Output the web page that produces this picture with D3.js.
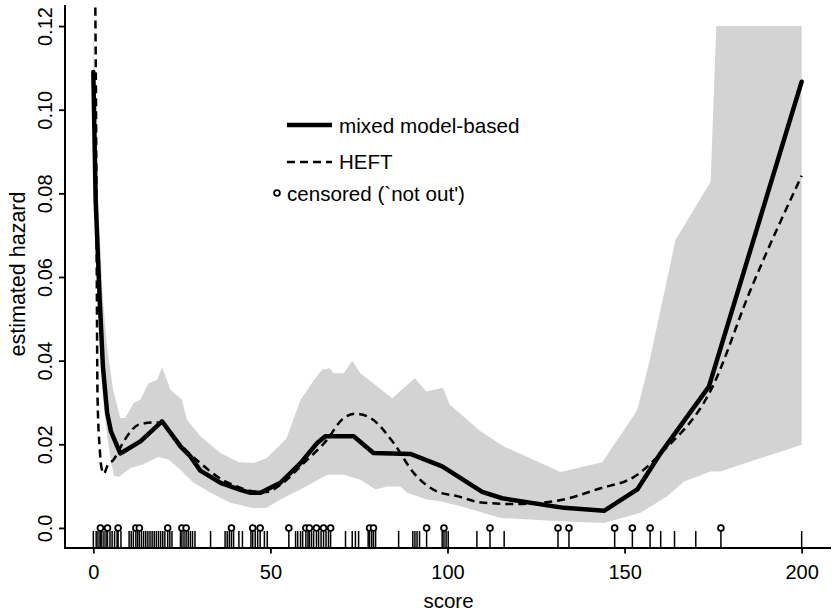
<!DOCTYPE html>
<html><head><meta charset="utf-8">
<script src="https://cdn.jsdelivr.net/npm/d3@7"></script>
<style>
body{margin:0;background:#fff}
text{font-family:"Liberation Sans",Arial,Helvetica,sans-serif;fill:#000}
</style>
</head><body>
<svg id="c" width="832" height="614"></svg>
<script>
// ---- data ----
const mixedScore  = [0,0.65,1.8,2.7,3.9,5,7.6,13.3,19.4,24.6,27.4,30.2,35.9,41.5,44.4,47.2,52.8,58.5,63.2,65.5,73.5,79.1,89.5,98.5,109.8,115.4,132.9,144.2,153.6,160.2,173.8,200];
const mixedHazard = [0.109,0.0785,0.0545,0.0386,0.0275,0.023,0.0178,0.0207,0.0255,0.0195,0.0171,0.0137,0.0108,0.0091,0.0084,0.0084,0.0108,0.0155,0.0203,0.0219,0.0219,0.0179,0.0177,0.0147,0.0086,0.0071,0.0048,0.0041,0.0092,0.0179,0.0338,0.1067];

const heftScore  = [0.45,0.56,0.7,1.2,1.8,2.3,3.0,4.0,5.7,8.6,12.8,17,19.4,22.5,26.5,30.2,35.9,40.6,45.3,49,52.8,59.4,66,70.2,74,78.2,84.8,90.5,97.1,102.7,109.5,119,131,142.5,153.6,160.2,174.5,185.6,200];
const heftHazard = [0.14,0.125,0.109,0.0307,0.019,0.0144,0.013,0.0149,0.0163,0.0207,0.0247,0.0252,0.0251,0.022,0.0183,0.0155,0.0118,0.0099,0.0087,0.0086,0.0103,0.0155,0.0211,0.0259,0.0273,0.0263,0.0203,0.0131,0.0087,0.0076,0.0061,0.0057,0.0065,0.0093,0.0127,0.0178,0.0332,0.057,0.0842];

const upperScore  = [0,0.65,1.8,2.7,3.9,5.6,7.6,9,11.4,13.3,15.6,18,19.4,21.8,25,26.4,30.2,35.9,41,45.3,49,54.5,57.5,58.5,62.3,64.6,66.7,67.9,70.7,73.1,75.4,79.9,84.4,88.6,90.8,94,98.7,100.6,109.3,115.9,131.9,143.7,152.6,153.6,156.9,164.4,174.3,175.9,200];
const upperHazard = [0.12,0.095,0.07,0.055,0.043,0.033,0.0263,0.0263,0.0299,0.0307,0.0346,0.0354,0.0384,0.033,0.0307,0.0259,0.0219,0.0179,0.0157,0.0155,0.0167,0.0213,0.0283,0.0306,0.0354,0.0378,0.0382,0.037,0.037,0.040,0.037,0.034,0.031,0.0342,0.0358,0.0326,0.0335,0.0295,0.0231,0.0195,0.0134,0.0157,0.0269,0.0283,0.0394,0.0689,0.0828,0.12,0.12];

const lowerScore  = [0,0.65,1.8,2.7,3.9,5,5.8,7.2,10.5,13.8,18.4,21.3,24.6,28.3,34,38.7,45.3,49,52.8,59.4,66,70.7,75.4,79.7,83,86.7,88.6,94.2,98,103.7,115,131.9,144.2,154.5,162,166.8,174.3,177,200];
const lowerHazard = [0.097,0.068,0.046,0.031,0.022,0.016,0.0125,0.0122,0.0143,0.0151,0.017,0.0163,0.0139,0.0108,0.008,0.006,0.0047,0.0048,0.0068,0.0096,0.0127,0.0127,0.0115,0.0092,0.0099,0.0099,0.0084,0.0068,0.0064,0.0052,0.0024,0.0016,0.0012,0.0036,0.0076,0.0111,0.0135,0.0135,0.0199];

// all observed scores (rug) and the censored ones ('not out')
const rugScores = [0,0.8,1.3,1.9,2,2.4,3,3.6,4,4.7,5.3,6,6.7,7,7.8,
  10.1,10.7,11.3,12,12.5,13,13.6,14.2,14.8,15.4,16,16.6,17.2,17.8,18.4,19,19.6,20.2,21,21.6,22.2,
  24.6,25,25.6,26.2,26.8,27.4,28,28.7,33.1,37.2,37.8,38.4,39,39.6,41.1,42.1,44.5,45,45.7,46.4,47.1,48.3,49.1,
  55.2,57.1,57.7,58.5,59.1,60,60.6,61,61.6,62.2,63,63.6,64.3,65,65.7,66.4,67,
  71.2,73.1,74,74.9,77.6,78,78.6,79.1,79.7,86.2,90.2,90.8,91.4,92.1,94.1,98.5,99,99.6,100.2,
  108.3,112,116,131.2,134.3,147.2,152.2,157.2,160.2,164.1,170.1,177.2,200];
const censoredScores = [2,4,7,12,13,21,25,26.2,39,45,47.1,55.2,60,61,63,65,67,78,79.1,94.1,99,112,131.2,134.3,147.2,152.2,157.2,177.2];

const xTicks = [0,50,100,150,200];
const yTicks = [0,0.02,0.04,0.06,0.08,0.10,0.12];
const yTickLabels = ["0.0","0.02","0.04","0.06","0.08","0.10","0.12"];
const legendLabels = ["mixed model-based","HEFT","censored (`not out')"];
const xLabel = "score", yLabel = "estimated hazard";

// ---- drawing ----
const svg = d3.select("#c");
const L=65, R=830, T=6, B=548;
const x = d3.scaleLinear().domain([-8,208]).range([L,R]);
const y = d3.scaleLinear().domain([-0.0048,0.1248]).range([B,T]);

svg.append("defs").append("clipPath").attr("id","clip")
  .append("rect").attr("x",L).attr("y",T).attr("width",R-L).attr("height",B-T);
const plot = svg.append("g").attr("clip-path","url(#clip)");

// confidence band
const up = upperScore.map((s,i)=>[s,upperHazard[i]]);
const lo = lowerScore.map((s,i)=>[s,lowerHazard[i]]).reverse();
const poly = d3.line().x(d=>x(d[0])).y(d=>y(d[1]));
plot.append("path").attr("d", poly(up.concat(lo))+"Z").attr("fill","#d3d3d3").attr("stroke","none");

// HEFT dashed
plot.append("path")
  .attr("d", d3.line().x(d=>x(d[0])).y(d=>y(d[1])).curve(d3.curveMonotoneX)(heftScore.map((s,i)=>[s,heftHazard[i]])))
  .attr("fill","none").attr("stroke","#000").attr("stroke-width",2.5).attr("stroke-dasharray","8,5");

// mixed model solid
plot.append("path")
  .attr("d", d3.line().x(d=>x(d[0])).y(d=>y(d[1]))(mixedScore.map((s,i)=>[s,mixedHazard[i]])))
  .attr("fill","none").attr("stroke","#000").attr("stroke-width",4.5).attr("stroke-linejoin","round").attr("stroke-linecap","round");

// rug
const rugLen = 17;
svg.append("g").selectAll("line").data(rugScores).join("line")
  .attr("x1",d=>x(d)).attr("x2",d=>x(d)).attr("y1",B).attr("y2",B-rugLen)
  .attr("stroke","#000").attr("stroke-width",1.5);

// censored points at hazard 0
svg.append("g").selectAll("circle").data(censoredScores).join("circle")
  .attr("cx",d=>x(d)).attr("cy",y(0)).attr("r",2.9)
  .attr("fill","#fff").attr("stroke","#000").attr("stroke-width",1.8);

// axes
const xAxis = svg.append("g").attr("transform",`translate(0,${B})`)
  .call(d3.axisBottom(x).tickValues(xTicks).tickFormat(d3.format("d")).tickSize(5.5).tickSizeOuter(0).tickPadding(11.5));
xAxis.select(".domain").attr("stroke-width",2).attr("d",`M${L},0H${R}`);
xAxis.selectAll(".tick line").attr("stroke-width",1.8);
xAxis.selectAll("text").attr("font-size",20).attr("font-family",null);

const yAxis = svg.append("g").attr("transform",`translate(${L},0)`)
  .call(d3.axisLeft(y).tickValues(yTicks).tickFormat((d,i)=>yTickLabels[i]).tickSize(6).tickSizeOuter(0));
yAxis.select(".domain").attr("stroke-width",2).attr("d",`M0,${T}V${B}`);
yAxis.selectAll(".tick line").attr("stroke-width",1.8);
yAxis.selectAll("text").attr("font-size",20).attr("font-family",null)
  .attr("x",null).attr("dy",null).attr("text-anchor","middle")
  .attr("transform","translate(-13,0) rotate(-90)");
svg.selectAll(".domain").attr("stroke-linecap","square");

// axis titles
svg.append("text").attr("x",(x(0)+x(200))/2+1).attr("y",608).attr("text-anchor","middle").attr("font-size",20.5).text(xLabel);
svg.append("text").attr("transform",`translate(25,274) rotate(-90)`).attr("text-anchor","middle").attr("font-size",21.5).text(yLabel);

// legend
const lg = svg.append("g");
lg.append("line").attr("x1",287).attr("x2",332).attr("y1",125).attr("y2",125).attr("stroke","#000").attr("stroke-width",4.5);
lg.append("line").attr("x1",287).attr("x2",332).attr("y1",162).attr("y2",162).attr("stroke","#000").attr("stroke-width",2.5).attr("stroke-dasharray","8,5");
lg.append("circle").attr("cx",277).attr("cy",193).attr("r",2.9).attr("fill","#fff").attr("stroke","#000").attr("stroke-width",1.8);
lg.append("text").attr("x",339).attr("y",133).attr("font-size",20.7).text(legendLabels[0]);
lg.append("text").attr("x",339).attr("y",169).attr("font-size",20.5).text(legendLabels[1]);
lg.append("text").attr("x",287).attr("y",201).attr("font-size",20.6).text(legendLabels[2]);
</script>
</body></html>
